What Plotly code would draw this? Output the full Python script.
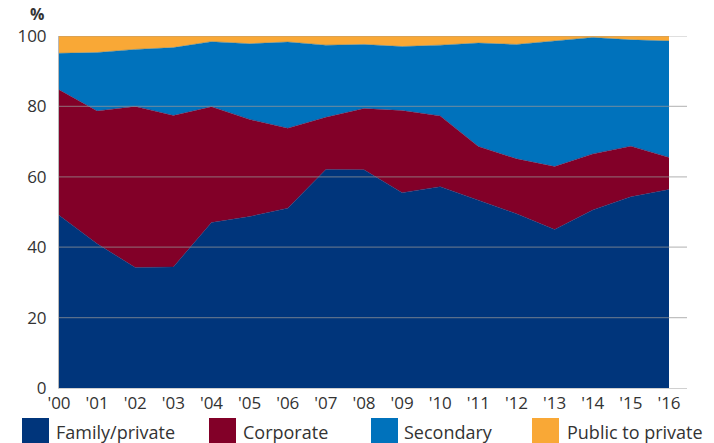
import plotly.graph_objects as go

# Share of deals by source, stacked to 100%
years = ["'00", "'01", "'02", "'03", "'04", "'05", "'06", "'07", "'08",
         "'09", "'10", "'11", "'12", "'13", "'14", "'15", "'16"]
family_private = [49.1, 41.0, 34.2, 34.4, 47.0, 48.7, 51.1, 62.1, 62.0,
                  55.5, 57.2, 53.4, 49.5, 45.0, 50.6, 54.3, 56.4]
corporate = [35.6, 37.7, 45.8, 43.0, 32.9, 27.6, 22.7, 14.8, 17.4,
             23.3, 20.1, 15.2, 15.6, 17.9, 15.9, 14.4, 9.1]
secondary = [10.4, 16.6, 16.2, 19.3, 18.5, 21.5, 24.5, 20.5, 18.2,
             18.2, 20.1, 29.4, 32.5, 35.6, 33.1, 30.2, 33.1]
public_to_private = [4.9, 4.7, 3.8, 3.3, 1.6, 2.2, 1.7, 2.6, 2.4,
                     3.0, 2.6, 2.0, 2.4, 1.5, 0.4, 1.1, 1.4]

series_names = ["Family/private", "Corporate", "Secondary", "Public to private"]
series_values = [family_private, corporate, secondary, public_to_private]
series_colors = ["#00357B", "#820028", "#0072BC", "#F9A836"]
y_ticks = [0, 20, 40, 60, 80, 100]

# Plot-area geometry in pixels (714 x 443 canvas)
W_FIG, H_FIG = 714, 443
LEFT, RIGHT, TOP, BOTTOM = 59, 687, 36, 388
PW, PH = RIGHT - LEFT, BOTTOM - TOP


def px_x(p):
    return (p - LEFT) / PW


def px_y(p):
    return (BOTTOM - p) / PH


TEXT = "#333333"
FONT = "Open Sans"

x_idx = list(range(len(years)))
fig = go.Figure()
for name, vals, col in zip(series_names, series_values, series_colors):
    fig.add_trace(go.Scatter(
        x=x_idx, y=vals, name=name, mode="lines",
        stackgroup="deals", line=dict(width=0.4, color=col),
        fillcolor=col, showlegend=False, hoverinfo="x+y+name",
    ))

shapes = []
# gridlines drawn over the filled areas
for v in y_ticks[1:]:
    shapes.append(dict(type="line", xref="paper", yref="y", x0=0, x1=1,
                       y0=v, y1=v, layer="above",
                       line=dict(color="rgba(150,150,150,0.6)", width=1.2)))

# legend: squares and labels below the axis
legend_pos = [(22, 54), (209, 241), (371, 402), (532, 565)]
sq_w, sq_top, sq_bot = 27, 418, 443
annotations = []
for (sx, tx), name, col in zip(legend_pos, series_names, series_colors):
    shapes.append(dict(type="rect", xref="paper", yref="paper",
                       x0=px_x(sx), x1=px_x(sx + sq_w),
                       y0=px_y(sq_bot), y1=px_y(sq_top),
                       fillcolor=col, line=dict(width=0), layer="above"))
    annotations.append(dict(xref="paper", yref="paper", x=px_x(tx),
                            y=px_y((sq_top + sq_bot) / 2 + 1), text=name,
                            showarrow=False, xanchor="left", yanchor="middle",
                            font=dict(family=FONT, size=18, color=TEXT)))

annotations.append(dict(xref="paper", yref="paper", x=px_x(37), y=px_y(14),
                        text="<b>%</b>", showarrow=False, xanchor="center",
                        yanchor="middle",
                        font=dict(family=FONT, size=16, color=TEXT)))

fig.update_layout(
    width=W_FIG, height=H_FIG,
    margin=dict(l=LEFT, r=W_FIG - RIGHT, t=TOP, b=H_FIG - BOTTOM, pad=0),
    paper_bgcolor="white", plot_bgcolor="white",
    font=dict(family=FONT, size=17, color=TEXT),
    shapes=shapes, annotations=annotations,
    xaxis=dict(range=[0, (RIGHT - LEFT) / ((669 - LEFT) / 16)],
               tickmode="array", tickvals=x_idx, ticktext=years,
               showgrid=False, zeroline=False, showline=True,
               linecolor="#d0d0d0", linewidth=1, ticks="",
               tickfont=dict(family=FONT, size=17, color=TEXT)),
    yaxis=dict(range=[0, 100], tickmode="array", tickvals=y_ticks,
               showgrid=False, zeroline=False, showline=True,
               linecolor="#b8b8b8", linewidth=1, ticks="",
               ticklabelstandoff=8,
               tickfont=dict(family=FONT, size=17, color=TEXT)),
)

fig.write_html("out.html")
